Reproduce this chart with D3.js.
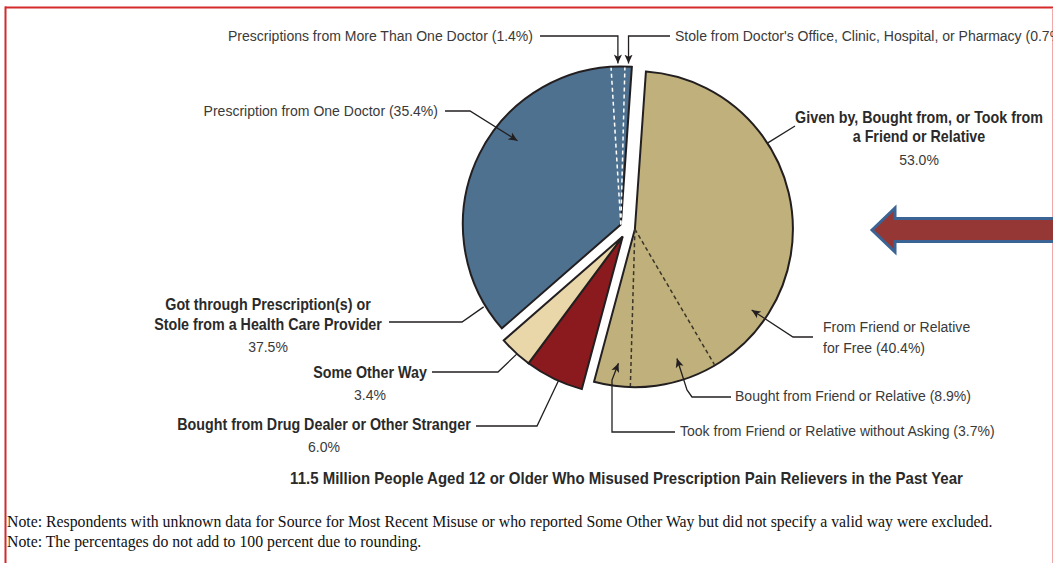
<!DOCTYPE html>
<html><head><meta charset="utf-8">
<script src="https://cdn.jsdelivr.net/npm/d3@7"></script>
<style>html,body{margin:0;padding:0;background:#fff;overflow:hidden}</style>
</head><body>
<svg id="chart" width="1053" height="563"></svg>
<script>
// ---------- data ----------
const categories = ["Given by, Bought from, or Took from a Friend or Relative", "Bought from Drug Dealer or Other Stranger", "Some Other Way", "Got through Prescription(s) or Stole from a Health Care Provider"];
const categoryValues = [53.0, 6.0, 3.4, 37.5];
const friendSources = ["From Friend or Relative for Free", "Bought from Friend or Relative", "Took from Friend or Relative without Asking"];
const friendValues = [40.4, 8.9, 3.7];
const prescriptionSources = ["Prescription from One Doctor", "Prescriptions from More Than One Doctor", "Stole from Doctor's Office, Clinic, Hospital, or Pharmacy"];
const prescriptionValues = [35.4, 1.4, 0.7];
const title = "11.5 Million People Aged 12 or Older Who Misused Prescription Pain Relievers in the Past Year";
const notes = ["Note: Respondents with unknown data for Source for Most Recent Misuse or who reported Some Other Way but did not specify a valid way were excluded.", "Note: The percentages do not add to 100 percent due to rounding."];

// ---------- layout / style ----------
const svg = d3.select("#chart");
const W = 1053, H = 563;
const C = [628, 228], R = 158;
const rot = 4 * Math.PI / 180;
const colors = ["#bfb07c", "#8b1a1f", "#e9d6a9", "#4e7190"];
const explode = [7, 10, 10, 8];
const ink = "#231f20";
const sansFam = "'Liberation Sans','Arial',Helvetica,sans-serif";
const serifFam = "'Liberation Serif','Times New Roman',serif";
const pct = v => d3.format(".1f")(v) + "%";
const rad = deg => deg * Math.PI / 180;

function natWidth(sample, weight, family, size) {
  const t = svg.append("text").attr("font-family", family).attr("font-weight", weight).attr("font-size", size).text(sample);
  const w = t.node().getComputedTextLength();
  t.remove();
  return w;
}
// font sizes (height) and horizontal condensing factors matched to the reference widths
const fsReg = 15.5, fsBold = 15.8, fsTitle = 16.5;
const kReg = 315 / natWidth(friendSources[2] + " (" + pct(friendValues[2]) + ")", 400, sansFam, fsReg);
const kBold = 228 / natWidth("Stole from a Health Care Provider", 700, sansFam, fsBold);
const kTitle = 673 / natWidth(title, 700, sansFam, fsTitle);
const fsNote = 14 * 986 / natWidth(notes[0], 400, serifFam, 14);

function condText(x, y, k, anchor, weight, size, fill, str) {
  return svg.append("text")
    .attr("transform", `translate(${x},${y}) scale(${k},1)`)
    .attr("x", 0).attr("y", 0).attr("text-anchor", anchor)
    .attr("font-family", sansFam).attr("font-weight", weight)
    .attr("font-size", size).attr("fill", fill).text(str);
}

// frame
svg.append("line").attr("x1", 5).attr("x2", W).attr("y1", 7.5).attr("y2", 7.5).attr("stroke", "#d42a2a").attr("stroke-width", 2);
svg.append("line").attr("x1", 5.5).attr("x2", 5.5).attr("y1", 6.5).attr("y2", H).attr("stroke", "#d42a2a").attr("stroke-width", 2);
svg.append("line").attr("x1", 1052.5).attr("x2", 1052.5).attr("y1", 8).attr("y2", H).attr("stroke", "#f2a9a9").attr("stroke-width", 1);

// marker
svg.append("defs").append("marker").attr("id", "ah").attr("viewBox", "0 0 10 10")
  .attr("refX", 10).attr("refY", 5).attr("markerWidth", 9).attr("markerHeight", 9)
  .attr("markerUnits", "userSpaceOnUse").attr("orient", "auto")
  .append("path").attr("d", "M0,0.5 L10,5 L0,9.5 L2.5,5 Z").attr("fill", ink);

// ---------- pie ----------
const pie = d3.pie().sort(null).value(d => d).startAngle(rot).endAngle(rot + 2 * Math.PI);
const main = pie(categoryValues);
const dirOf = a => [Math.sin(a), -Math.cos(a)];
const groupMid = (main[1].startAngle + main[2].endAngle) / 2;
const centers = main.map((d, i) => {
  const a = (i === 1 || i === 2) ? groupMid : (d.startAngle + d.endAngle) / 2;
  const v = dirOf(a);
  return [C[0] + explode[i] * v[0], C[1] + explode[i] * v[1]];
});
const arc = d3.arc().innerRadius(0).outerRadius(R);

const gPie = svg.append("g");
main.forEach((d, i) => {
  gPie.append("path").attr("d", arc(d))
    .attr("transform", `translate(${centers[i][0]},${centers[i][1]})`)
    .attr("fill", colors[i]).attr("stroke", ink).attr("stroke-width", 2).attr("stroke-linejoin", "miter");
});

// sub-slices
const friendPie = d3.pie().sort(null).value(d => d).startAngle(main[0].startAngle).endAngle(main[0].endAngle)(friendValues);
const rxPie = d3.pie().sort(null).value(d => d).startAngle(main[3].startAngle).endAngle(main[3].endAngle)(prescriptionValues);
function divider(center, a, col) {
  const v = dirOf(a);
  gPie.append("line").attr("x1", center[0]).attr("y1", center[1])
    .attr("x2", center[0] + (R - 1) * v[0]).attr("y2", center[1] + (R - 1) * v[1])
    .attr("stroke", col).attr("stroke-width", 1.5).attr("stroke-dasharray", "4,3");
}
friendPie.slice(0, -1).forEach(d => divider(centers[0], d.endAngle, "#3a3526"));
rxPie.slice(0, -1).forEach(d => divider(centers[3], d.endAngle, "#ffffff"));

function polar(center, a, r) { const v = dirOf(a); return [center[0] + r * v[0], center[1] + r * v[1]]; }

// ---------- leaders ----------
const tipMore = polar(centers[3], (rxPie[1].startAngle + rxPie[1].endAngle) / 2, R + 3);
const tipStole = polar(centers[3], (rxPie[2].startAngle + rxPie[2].endAngle) / 2, R + 3);
const leaders = [
  { pts: [[540, 36], [tipMore[0], 36], tipMore], arrow: true },
  { pts: [[670, 36], [tipStole[0], 36], tipStole], arrow: true },
  { pts: [[445, 111], [470, 111], polar(centers[3], rad(309), 133)], arrow: true },
  { pts: [polar(centers[0], rad(57), R), [795, 126]], arrow: false },
  { pts: [[813, 337], [793, 337], polar(centers[0], rad(124.7), 142)], arrow: true },
  { pts: [[731, 397], [692, 397], [687, 390], polar(centers[0], rad(162), 136)], arrow: true },
  { pts: [[675, 432], [612, 432], [612, 380], polar(centers[0], rad(187), 135)], arrow: true },
  { pts: [[389, 322], [462, 322], polar(centers[3], rad(239), R + 2)], arrow: false },
  { pts: [[432, 372], [498, 372], polar(centers[2], rad(222), R)], arrow: false },
  { pts: [[476, 426], [537, 426], polar(centers[1], rad(204), R)], arrow: false }
];
const line = d3.line();
leaders.forEach(l => {
  svg.append("path").attr("d", line(l.pts)).attr("fill", "none").attr("stroke", ink)
    .attr("stroke-width", 1.3).attr("marker-end", l.arrow ? "url(#ah)" : null);
});

// ---------- labels ----------
const words = s => s.split(" ");
const splitAt = (s, n) => [words(s).slice(0, n).join(" "), words(s).slice(n).join(" ")];
const g0 = splitAt(categories[0], 7);
const g3 = splitAt(categories[3], 4);
const f0 = splitAt(friendSources[0], 4);
const labels = [
  { x: 533, anchor: "end", lines: [[prescriptionSources[1] + " (" + pct(prescriptionValues[1]) + ")", 41, 0]] },
  { x: 675, anchor: "start", lines: [[prescriptionSources[2] + " (" + pct(prescriptionValues[2]) + ")", 41, 0]] },
  { x: 438, anchor: "end", lines: [[prescriptionSources[0] + " (" + pct(prescriptionValues[0]) + ")", 116, 0]] },
  { x: 919, anchor: "middle", lines: [[g0[0], 123, 1], [g0[1], 142, 1], [pct(categoryValues[0]), 165, 0]] },
  { x: 823, anchor: "start", lines: [[f0[0], 332, 0], [f0[1] + " (" + pct(friendValues[0]) + ")", 353, 0]] },
  { x: 735, anchor: "start", lines: [[friendSources[1] + " (" + pct(friendValues[1]) + ")", 401, 0]] },
  { x: 680, anchor: "start", lines: [[friendSources[2] + " (" + pct(friendValues[2]) + ")", 436, 0]] },
  { x: 268, anchor: "middle", lines: [[g3[0], 310, 1], [g3[1], 330, 1], [pct(categoryValues[3]), 352, 0]] },
  { x: 370, anchor: "middle", lines: [[categories[2], 378, 1], [pct(categoryValues[2]), 400, 0]] },
  { x: 324, anchor: "middle", lines: [[categories[1], 430, 1], [pct(categoryValues[1]), 452, 0]] }
];
labels.forEach(l => {
  l.lines.forEach(([t, y, b]) => {
    condText(l.x, y, b ? kBold : kReg, l.anchor, b ? 700 : 400, b ? fsBold : fsReg, b ? "#2a2a2a" : "#3a3a3a", t);
  });
});

condText(626.5, 484, kTitle, "middle", 700, fsTitle, "#2a2a2a", title);
notes.forEach((n, i) => {
  svg.append("text").attr("x", 7).attr("y", 527 + i * 19.5).attr("font-family", serifFam)
    .attr("font-size", fsNote).attr("fill", "#111").text(n);
});

// ---------- big arrow ----------
svg.append("path")
  .attr("d", "M872,230 L895,208 L895,218.5 L1060,218.5 L1060,241.5 L895,241.5 L895,252 Z")
  .attr("fill", "#953735").attr("stroke", "#3b6494").attr("stroke-width", 3).attr("stroke-linejoin", "miter");
</script>
</body></html>
